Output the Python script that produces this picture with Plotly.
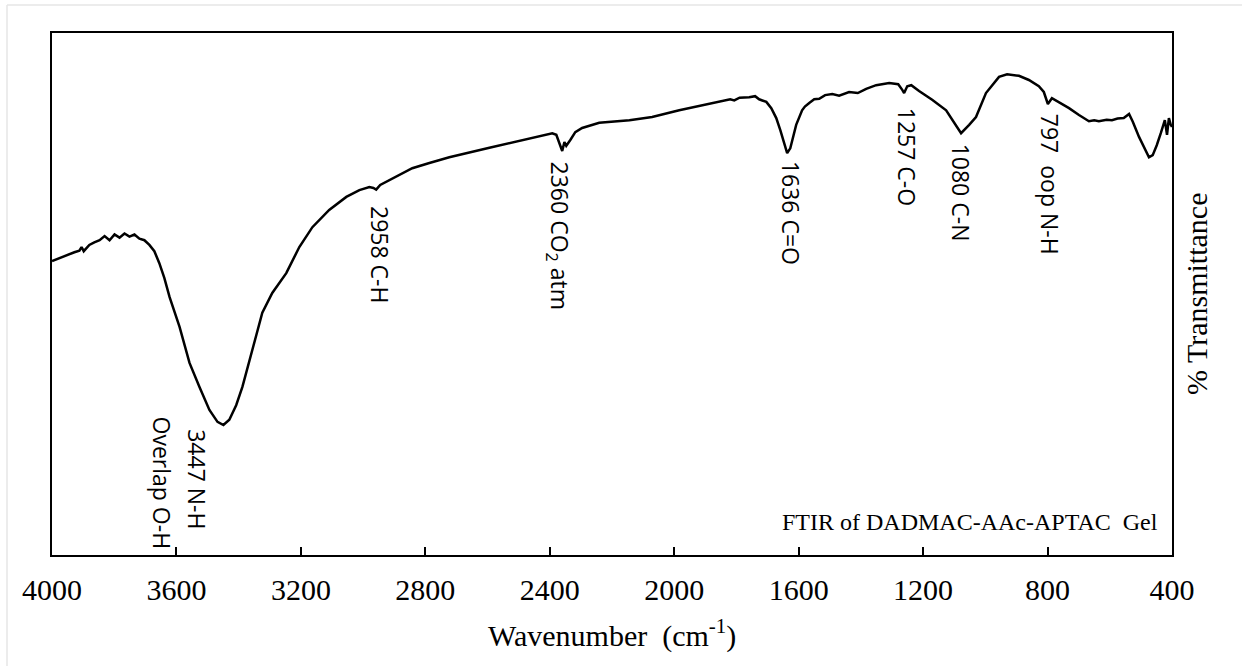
import plotly.graph_objects as go

# FTIR spectrum
wavenumber = [4000, 3960, 3928, 3912, 3905, 3898, 3880, 3864, 3847, 3831, 3815, 3799, 3783, 3767,
              3751, 3735, 3719, 3703, 3687, 3671, 3655, 3639, 3622, 3590, 3558, 3526, 3494, 3468,
              3449, 3430, 3408, 3388, 3356, 3324, 3292, 3247, 3205, 3163, 3109, 3054, 3012, 2980,
              2967, 2958, 2945, 2926, 2884, 2842, 2787, 2723, 2594, 2498, 2392, 2379, 2366, 2360,
              2353, 2347, 2334, 2318, 2296, 2241, 2144, 2071, 1984, 1920, 1855, 1820, 1807, 1790,
              1759, 1740, 1727, 1704, 1688, 1672, 1659, 1646, 1637, 1627, 1617, 1608, 1589, 1580,
              1566, 1550, 1534, 1515, 1492, 1470, 1438, 1410, 1383, 1351, 1309, 1280, 1267, 1261,
              1251, 1238, 1213, 1171, 1126, 1101, 1078, 1052, 1030, 998, 956, 930, 892, 860, 828,
              812, 799, 786, 764, 731, 699, 667, 650, 635, 610, 593, 575, 555, 538, 526, 506, 487,
              474, 462, 449, 436, 429, 423, 416, 410, 404, 400]
transmittance = [56.3, 57.3, 58.0, 58.3, 59.0, 58.2, 59.4, 59.9, 60.3, 61.1, 60.3, 61.4, 60.8, 61.6,
                 61.0, 61.4, 60.6, 60.3, 59.4, 58.2, 55.9, 53.1, 49.4, 43.7, 36.8, 32.2, 27.8, 25.5,
                 24.9, 25.9, 28.7, 32.2, 39.3, 46.4, 50.2, 54.0, 59.0, 62.8, 66.1, 68.6, 69.9, 70.5,
                 70.3, 70.0, 70.9, 71.5, 72.8, 74.1, 75.1, 76.2, 78.0, 79.3, 80.8, 80.5, 78.2, 77.4,
                 79.1, 78.4, 79.5, 81.0, 81.8, 82.8, 83.3, 83.9, 85.2, 86.0, 86.8, 87.3, 87.1, 87.6,
                 87.7, 87.9, 87.3, 86.8, 85.6, 83.7, 81.4, 78.5, 77.0, 77.9, 80.5, 82.4, 85.2, 85.9,
                 86.6, 87.3, 87.4, 88.1, 88.3, 88.0, 88.7, 88.5, 89.3, 90.0, 90.4, 90.2, 89.1, 88.5,
                 89.8, 90.0, 88.9, 87.2, 85.2, 82.9, 80.8, 82.4, 83.9, 88.5, 91.6, 92.1, 91.8, 91.0,
                 89.8, 88.7, 86.4, 87.5, 86.8, 85.6, 84.3, 83.1, 83.3, 83.1, 83.4, 83.3, 83.6, 83.7,
                 84.5, 83.0, 80.1, 77.6, 76.2, 76.6, 78.5, 80.8, 82.2, 83.3, 80.5, 83.7, 82.4, 82.0]

tick_values = [4000, 3600, 3200, 2800, 2400, 2000, 1600, 1200, 800, 400]
tick_labels = ["4000", "3600", "3200", "2800", "2400", "2000", "1600", "1200", "800", "400"]

peak_labels = ["Overlap O-H", "3447 N-H", "2958 C-H", "2360 CO<sub>2</sub> atm", "1636 C=O",
               "1257 C-O", "1080 C-N", "797\u00a0\u00a0oop N-H"]
peak_label_x = [3645, 3532, 2948, 2372, 1624, 1252, 1078, 792]
peak_label_y = [13.8, 14.6, 57.6, 61.1, 65.5, 76.3, 69.4, 71.1]

fig = go.Figure()
fig.add_trace(go.Scatter(x=wavenumber, y=transmittance, mode="lines",
                         line=dict(color="black", width=2.5), showlegend=False,
                         hoverinfo="skip"))

for txt, xv, yv in zip(peak_labels, peak_label_x, peak_label_y):
    fig.add_annotation(x=xv, y=yv, xref="x", yref="y", text=txt, textangle=90,
                       showarrow=False, xanchor="center", yanchor="middle",
                       font=dict(family="Open Sans", size=23, color="black"))

fig.add_annotation(x=(970 - 52) / 1120, y=(555 - 522) / 522, xref="paper", yref="paper",
                   text="FTIR of DADMAC-AAc-APTAC\u00a0\u00a0Gel", showarrow=False,
                   xanchor="center", yanchor="middle",
                   font=dict(family="Liberation Serif", size=24, color="black"))
fig.add_annotation(x=(1196 - 52) / 1120, y=0.5, xref="paper", yref="paper",
                   text="% Transmittance", textangle=-90, showarrow=False,
                   xanchor="center", yanchor="middle",
                   font=dict(family="Liberation Serif", size=30, color="black"))
fig.add_annotation(x=0.5, y=(555 - 633) / 522, xref="paper", yref="paper",
                   text="Wavenumber\u00a0\u00a0(cm<sup>-1</sup>)", showarrow=False,
                   xanchor="center", yanchor="middle",
                   font=dict(family="Liberation Serif", size=30, color="black"))

# faint outer border (top and left only)
fig.add_shape(type="line", xref="paper", yref="paper",
              x0=(7 - 52) / 1120, x1=(1242 - 52) / 1120, y0=(555 - 5) / 522, y1=(555 - 5) / 522,
              line=dict(color="#e6e6e6", width=1.5))
fig.add_shape(type="line", xref="paper", yref="paper",
              x0=(7 - 52) / 1120, x1=(7 - 52) / 1120, y0=(555 - 5) / 522, y1=(555 - 666) / 522,
              line=dict(color="#e6e6e6", width=1.5))

fig.update_layout(
    width=1242, height=666,
    margin=dict(l=52, r=70, t=33, b=111),
    paper_bgcolor="white", plot_bgcolor="white",
    xaxis=dict(range=[4000, 400], tickvals=tick_values, ticktext=tick_labels,
               ticks="inside", ticklen=8, tickwidth=2, tickcolor="black",
               showline=True, linewidth=2, linecolor="black", mirror=True,
               showgrid=False, zeroline=False, ticklabelstandoff=7,
               tickfont=dict(family="Liberation Serif", size=30, color="black")),
    yaxis=dict(range=[0, 100], showticklabels=False, ticks="", showline=True,
               linewidth=2, linecolor="black", mirror=True, showgrid=False,
               zeroline=False),
)

fig.write_html("out.html")
